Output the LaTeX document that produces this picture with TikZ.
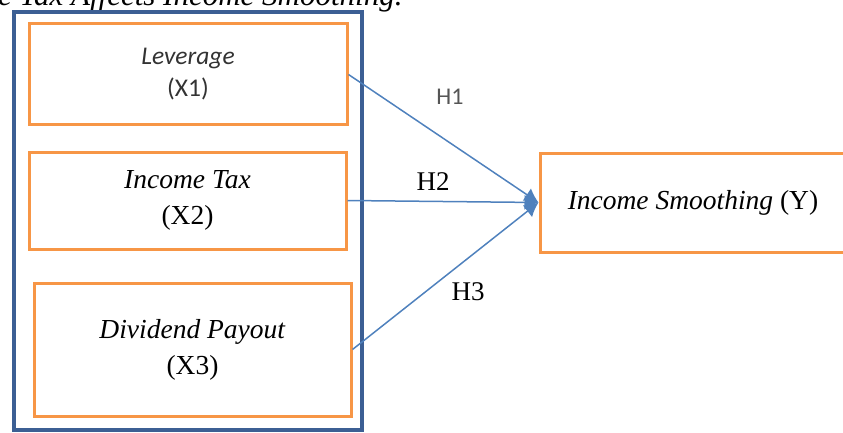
\documentclass[tikz,border=0pt]{standalone}
\usepackage{fontspec}
\setmainfont{Liberation Serif}
\newfontfamily\calib{Carlito}
\usetikzlibrary{arrows.meta}
\definecolor{boxorange}{HTML}{F79646}
\definecolor{lineblue}{HTML}{4F81BD}
\definecolor{frameblue}{HTML}{3C5F94}
\definecolor{labelgray}{HTML}{555555}
\tikzset{
    varbox/.style={draw=boxorange, line width=3pt, align=center, inner sep=0pt,
        font=\fontsize{27.5}{36}\selectfont},
    hyp/.style={draw=lineblue, line width=1.5pt, -{Latex[length=14pt,width=15pt]}},
    hlabel/.style={font=\fontsize{27}{30}\selectfont}
}
\begin{document}
\begin{tikzpicture}[x=1pt, y=-1pt]
    \useasboundingbox (0,0) rectangle (843,433);
    \begin{scope}
    \clip (0,0) rectangle (843,433);

    % Titre coupe en haut
    \node[anchor=base west, inner sep=0pt, font=\itshape\fontsize{31}{33}\selectfont] (titre) at (-2,6) {e Tax Affects Income Smoothing.};

    % Cadre des variables independantes
    \draw[frameblue, line width=3.5pt] (14,12) rectangle (362,430);

    % Les boites
    \node[varbox, minimum width=318pt, minimum height=101pt, font=\calib\fontsize{25.5}{32}\selectfont, text=black!80] (lev) at (188,74.5)
        {\textit{Leverage}\\(X1)};
    \node[varbox, minimum width=317pt, minimum height=97pt] (tax) at (187.5,200.5)
        {\textit{Income Tax}\\(X2)};
    \node[varbox, minimum width=317pt, minimum height=133pt] (div) at (192.5,349.5)
        {\textit{Dividend Payout}\\(X3)};
    \node[varbox, minimum width=306pt, minimum height=99pt] (smooth) at (693,202.5)
        {\textit{Income Smoothing} (Y)};

    % Les fleches
    \draw[hyp] (lev.east) -- (smooth.west);
    \draw[hyp] (tax.east) -- (smooth.west);
    \draw[hyp] (div.east) -- (smooth.west);

    % Hypotheses
    \node[font=\calib\fontsize{24}{26}\selectfont, text=labelgray] (h1) at (450,97) {H1};
    \node[hlabel] (h2) at (433,182) {H2};
    \node[hlabel] (h3) at (468,292) {H3};
    \end{scope}
\end{tikzpicture}
\end{document}
